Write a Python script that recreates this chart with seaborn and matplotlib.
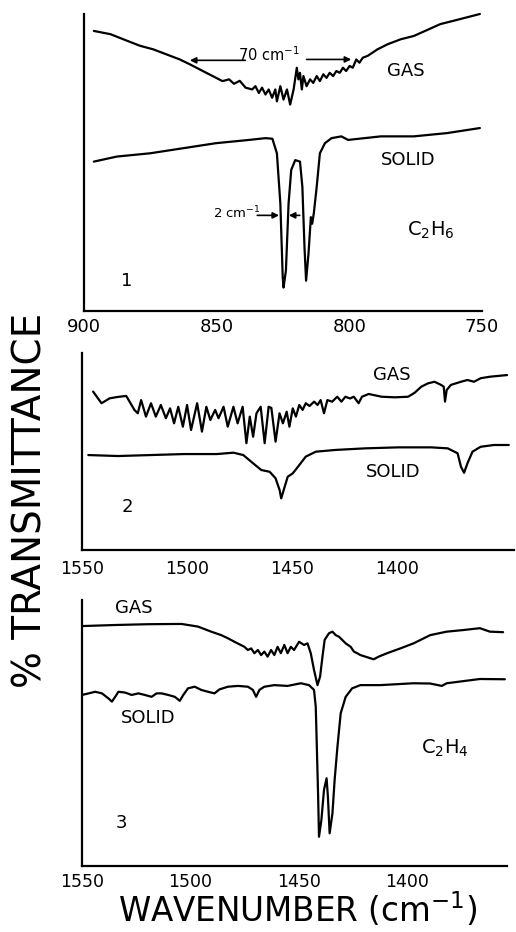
import matplotlib
matplotlib.use("Agg")
import matplotlib.pyplot as plt
import seaborn as sns
import pandas as pd
from matplotlib.ticker import MultipleLocator

# ---------------- data ----------------
# Panel 1: C2H6, 900-750 cm-1
p1_gas_wn = [896.3, 890.0, 883.8, 878.9, 873.9, 868.9, 863.9, 860.2, 856.5, 851.5,
             847.8, 845.3, 843.5, 841.3, 839.1, 836.6, 835.4, 834.1, 832.9, 831.6,
             830.4, 829.1, 827.9, 827.3, 826.0, 824.8, 823.5, 822.3, 821.0, 819.8,
             819.2, 818.6, 817.9, 817.3, 816.1, 814.8, 813.6, 812.3, 811.1, 809.8,
             808.6, 807.4, 806.1, 804.9, 803.6, 802.4, 801.2, 799.9, 798.7, 797.4,
             796.2, 794.9, 793.1, 789.4, 785.6, 780.6, 775.7, 765.7, 760.8, 750.8]
p1_gas_t = [94.3, 93.2, 91.0, 89.3, 88.1, 86.4, 84.7, 83.1, 81.4, 79.1,
            77.4, 78.0, 76.5, 77.5, 75.2, 74.6, 75.7, 73.4, 75.2, 72.9,
            74.6, 71.8, 74.6, 70.6, 75.7, 71.2, 74.6, 69.5, 74.6, 81.9,
            78.0, 80.2, 74.6, 79.1, 75.7, 78.0, 76.8, 79.1, 77.4, 79.7,
            78.5, 80.2, 79.1, 80.8, 80.2, 81.9, 80.8, 82.5, 81.9, 84.7,
            83.6, 85.3, 85.9, 88.1, 89.8, 91.5, 92.6, 96.6, 97.7, 100.0]

p1_sol_wn = [896.3, 887.6, 875.1, 862.7, 850.3, 837.8, 831.6, 829.0, 827.3, 826.0,
             825.1, 824.8, 823.9, 822.9, 821.9, 820.4, 818.6, 817.7, 816.9, 816.3,
             815.4, 814.5, 814.0, 813.4, 812.3, 811.1, 809.2, 806.7, 803.0, 800.5,
             788.1, 775.7, 763.2, 750.8]
p1_sol_t = [50.3, 52.0, 53.1, 54.8, 56.5, 57.6, 58.2, 58.0, 53.1, 36.2,
            11.3, 7.9, 13.6, 36.2, 47.5, 50.8, 50.3, 41.8, 21.5, 10.2,
            19.2, 31.6, 29.4, 32.8, 41.8, 53.1, 56.5, 58.2, 58.8, 57.6,
            58.8, 58.8, 59.9, 61.6]

# Panel 2: 1550-1345 cm-1
p2_gas_wn = [1544.7, 1540.7, 1536.8, 1532.9, 1528.9, 1525.0, 1523.4, 1521.8, 1519.5, 1517.1,
             1514.8, 1512.4, 1510.0, 1508.0, 1506.1, 1504.1, 1501.9, 1499.9, 1498.0, 1495.1,
             1492.8, 1490.7, 1488.8, 1486.5, 1484.9, 1482.5, 1480.5, 1477.8, 1475.8, 1473.4,
             1471.6, 1470.0, 1468.4, 1466.8, 1464.8, 1462.9, 1461.0, 1459.7, 1457.7, 1455.8,
             1454.2, 1452.4, 1451.1, 1449.5, 1448.0, 1446.4, 1444.8, 1443.3, 1441.5, 1439.3,
             1437.7, 1436.2, 1434.6, 1433.0, 1430.7, 1428.3, 1426.3, 1424.4, 1422.2, 1420.4,
             1418.1, 1416.5, 1413.3, 1407.1, 1400.8, 1394.5, 1391.4, 1388.2, 1385.0, 1381.9,
             1378.8, 1377.5, 1376.9, 1376.1, 1374.1, 1369.3, 1366.2, 1363.1, 1359.9, 1355.2,
             1347.3]
p2_gas_t = [80.4, 74.5, 77.0, 77.7, 78.2, 71.1, 69.4, 76.1, 67.7, 74.5,
            67.7, 73.6, 66.9, 71.9, 64.3, 72.7, 62.6, 73.6, 60.9, 74.5,
            60.1, 72.7, 66.0, 71.1, 66.9, 72.7, 62.6, 72.7, 64.3, 72.7,
            54.2, 67.7, 57.5, 69.4, 72.7, 54.2, 72.7, 72.1, 55.0, 69.4,
            64.3, 70.2, 62.6, 71.9, 67.7, 73.6, 71.1, 74.5, 73.1, 75.3,
            73.6, 76.1, 69.4, 76.1, 75.3, 77.8, 75.3, 77.8, 76.9, 77.8,
            74.5, 77.8, 79.2, 77.8, 77.5, 77.8, 79.8, 82.9, 84.6, 85.4,
            83.8, 82.9, 75.3, 81.2, 83.8, 85.4, 86.3, 85.4, 87.2, 88.0,
            88.8]

p2_sol_wn = [1547.0, 1532.9, 1517.1, 1501.4, 1485.7, 1477.8, 1473.1, 1468.4, 1464.5, 1460.5,
             1457.7, 1455.8, 1455.0, 1453.8, 1451.9, 1449.5, 1446.4, 1443.3, 1438.5, 1429.1,
             1414.9, 1399.2, 1383.5, 1375.6, 1370.9, 1369.3, 1367.8, 1366.2, 1363.8, 1359.9,
             1353.6, 1346.5]
p2_sol_t = [48.2, 47.7, 48.2, 48.7, 48.7, 49.4, 48.2, 44.0, 40.6, 39.7,
            36.4, 30.5, 26.2, 30.5, 37.2, 38.9, 43.1, 47.4, 49.9, 50.8,
            51.6, 52.1, 52.1, 51.6, 49.1, 42.3, 39.2, 44.0, 49.9, 52.4,
            53.3, 53.3]

# Panel 3: C2H4, 1550-1355 cm-1
p3_gas_wn = [1550.0, 1534.7, 1519.4, 1504.1, 1496.5, 1490.4, 1485.8, 1482.7, 1479.7, 1475.1,
             1473.5, 1472.0, 1470.5, 1468.9, 1467.4, 1465.9, 1464.4, 1462.8, 1461.3, 1459.8,
             1458.3, 1456.7, 1455.2, 1453.7, 1452.2, 1449.9, 1447.6, 1446.0, 1444.5, 1443.0,
             1441.4, 1440.2, 1439.1, 1438.1, 1436.1, 1434.5, 1433.0, 1431.5, 1430.0, 1428.4,
             1426.1, 1424.6, 1423.1, 1421.6, 1419.3, 1417.0, 1415.5, 1413.2, 1409.3, 1403.2,
             1397.1, 1389.4, 1381.8, 1374.2, 1366.5, 1361.9, 1355.8]
p3_gas_t = [90.2, 90.6, 90.9, 91.0, 90.0, 88.1, 86.8, 85.6, 84.3, 82.4,
            81.2, 81.8, 80.0, 81.2, 79.3, 80.6, 78.7, 81.2, 79.3, 82.4,
            80.0, 83.1, 80.0, 82.4, 81.2, 84.3, 83.1, 83.7, 80.0, 73.7,
            68.0, 71.2, 78.7, 85.0, 87.5, 88.1, 86.8, 86.2, 85.0, 83.7,
            82.4, 80.6, 80.0, 79.3, 78.7, 78.1, 77.7, 78.7, 80.0, 81.8,
            83.7, 86.8, 88.1, 88.7, 89.4, 88.1, 87.9]

p3_sol_wn = [1550.0, 1546.9, 1543.9, 1540.8, 1537.8, 1536.2, 1534.7, 1533.2, 1530.1, 1527.1,
             1524.0, 1521.0, 1517.9, 1515.6, 1513.3, 1510.2, 1507.2, 1504.9, 1503.3, 1501.1,
             1498.0, 1495.0, 1491.9, 1488.9, 1486.6, 1482.7, 1478.1, 1473.5, 1471.2, 1469.7,
             1468.2, 1465.9, 1461.3, 1455.2, 1449.1, 1445.3, 1443.0, 1442.2, 1441.7, 1441.1,
             1440.7, 1439.6, 1438.4, 1437.2, 1436.6, 1435.8, 1434.5, 1433.5, 1432.2, 1430.7,
             1428.4, 1425.4, 1421.6, 1412.4, 1397.1, 1389.4, 1384.1, 1381.8, 1366.5, 1355.0]
p3_sol_t = [64.3, 64.9, 65.5, 64.9, 63.0, 61.8, 63.6, 65.5, 65.2, 64.3,
            64.9, 64.3, 63.6, 64.9, 64.9, 64.3, 63.6, 62.1, 64.3, 66.8,
            67.4, 66.2, 65.5, 64.9, 66.4, 67.4, 67.7, 67.4, 66.2, 63.6,
            66.2, 67.4, 68.0, 67.7, 68.7, 68.0, 66.2, 59.9, 44.8, 26.1,
            11.0, 17.3, 28.6, 33.0, 26.1, 12.3, 19.8, 32.3, 44.8, 57.4,
            63.6, 66.8, 68.0, 68.0, 68.7, 68.6, 67.7, 68.7, 70.3, 70.2]

p1_ticks = [900, 850, 800, 750]
p23_ticks = [1550, 1500, 1450, 1400]

# ---------------- figure ----------------
sns.set_style("white")
plt.rcParams['font.family'] = ['DejaVu Sans']

W, H = 516, 932
fig = plt.figure(figsize=(W / 100, H / 100), dpi=100)


def px_axes(left, right, top, bottom):
    return fig.add_axes([left / W, 1 - bottom / H, (right - left) / W, (bottom - top) / H])


ax1 = px_axes(84, 482, 14, 311)
ax2 = px_axes(82, 514, 353, 550)
ax3 = px_axes(82, 507, 600, 866)

lw = 1.6
for ax, traces in [
    (ax1, [(p1_gas_wn, p1_gas_t), (p1_sol_wn, p1_sol_t)]),
    (ax2, [(p2_gas_wn, p2_gas_t), (p2_sol_wn, p2_sol_t)]),
    (ax3, [(p3_gas_wn, p3_gas_t), (p3_sol_wn, p3_sol_t)]),
]:
    for wn, t in traces:
        df = pd.DataFrame({"wn": wn, "t": t})
        sns.lineplot(data=df, x="wn", y="t", ax=ax, color="black", lw=lw,
                     estimator=None, sort=False, clip_on=False)
    ax.set_ylim(0, 100)
    ax.set_xlabel("")
    ax.set_ylabel("")
    ax.set_yticks([])
    for s in ["top", "right"]:
        ax.spines[s].set_visible(False)
    for s in ["left", "bottom"]:
        ax.spines[s].set_linewidth(1.6)
        ax.spines[s].set_color("black")
    ax.tick_params(axis="x", which="major", direction="in", length=8, width=1.4,
                   colors="black", labelsize=13)
    ax.tick_params(axis="x", which="minor", direction="in", length=4, width=1.2,
                   colors="black")

ax1.set_xlim(900, 750)
ax1.set_xticks(p1_ticks)
ax1.set_xticklabels([str(v) for v in p1_ticks])
ax1.tick_params(axis="x", pad=5)

ax2.set_xlim(1550, 1344)
ax3.set_xlim(1550, 1354)
for ax, pad in [(ax2, 7), (ax3, 5)]:
    ax.set_xticks(p23_ticks)
    ax.set_xticklabels([str(v) for v in p23_ticks])
    ax.xaxis.set_minor_locator(MultipleLocator(10))
    ax.tick_params(axis="x", pad=pad, labelsize=12.5)

# ---------------- annotations ----------------
tk = dict(color="black", ha="center", va="center")
ax1.text(778.8, 80.7, "GAS", fontsize=13, **tk)
ax1.text(778.0, 50.8, "SOLID", fontsize=13, **tk)
ax1.text(769.4, 27.1, "C$_2$H$_6$", fontsize=14, **tk)
ax1.text(884.0, 10.2, "1", fontsize=13, **tk)
ax1.text(830.2, 86.4, "70 cm$^{-1}$", fontsize=10.5, **tk)
ax1.text(842.5, 32.9, "2 cm$^{-1}$", fontsize=9.5, **tk)
arr = dict(arrowstyle="-|>", color="black", lw=1.2, mutation_scale=9,
           shrinkA=0, shrinkB=0)
ax1.annotate("", xy=(860.1, 84.4), xytext=(839.2, 84.4), arrowprops=arr)
ax1.annotate("", xy=(799.3, 84.7), xytext=(816.1, 84.7), arrowprops=arr)
ax1.annotate("", xy=(826.5, 32.2), xytext=(834.7, 32.2), arrowprops=arr)
ax1.annotate("", xy=(822.8, 32.2), xytext=(818.7, 32.2), arrowprops=arr)

ax2.text(1402.4, 88.8, "GAS", fontsize=13, **tk)
ax2.text(1401.4, 39.6, "SOLID", fontsize=13, **tk)
ax2.text(1528.3, 21.8, "2", fontsize=13, **tk)

ax3.text(1526.1, 97.0, "GAS", fontsize=13, **tk)
ax3.text(1519.3, 55.6, "SOLID", fontsize=13, **tk)
ax3.text(1382.6, 44.4, "C$_2$H$_4$", fontsize=14, **tk)
ax3.text(1531.7, 16.2, "3", fontsize=13, **tk)

fig.text(298 / W, 1 - 910 / H, "WAVENUMBER (cm$^{-1}$)", fontsize=23.5,
         ha="center", va="center", color="black")
fig.text(31 / W, 1 - 500 / H, "% TRANSMITTANCE", fontsize=28, rotation=90,
         ha="center", va="center", color="black")

fig.savefig("out.png", dpi=100, facecolor="white")
